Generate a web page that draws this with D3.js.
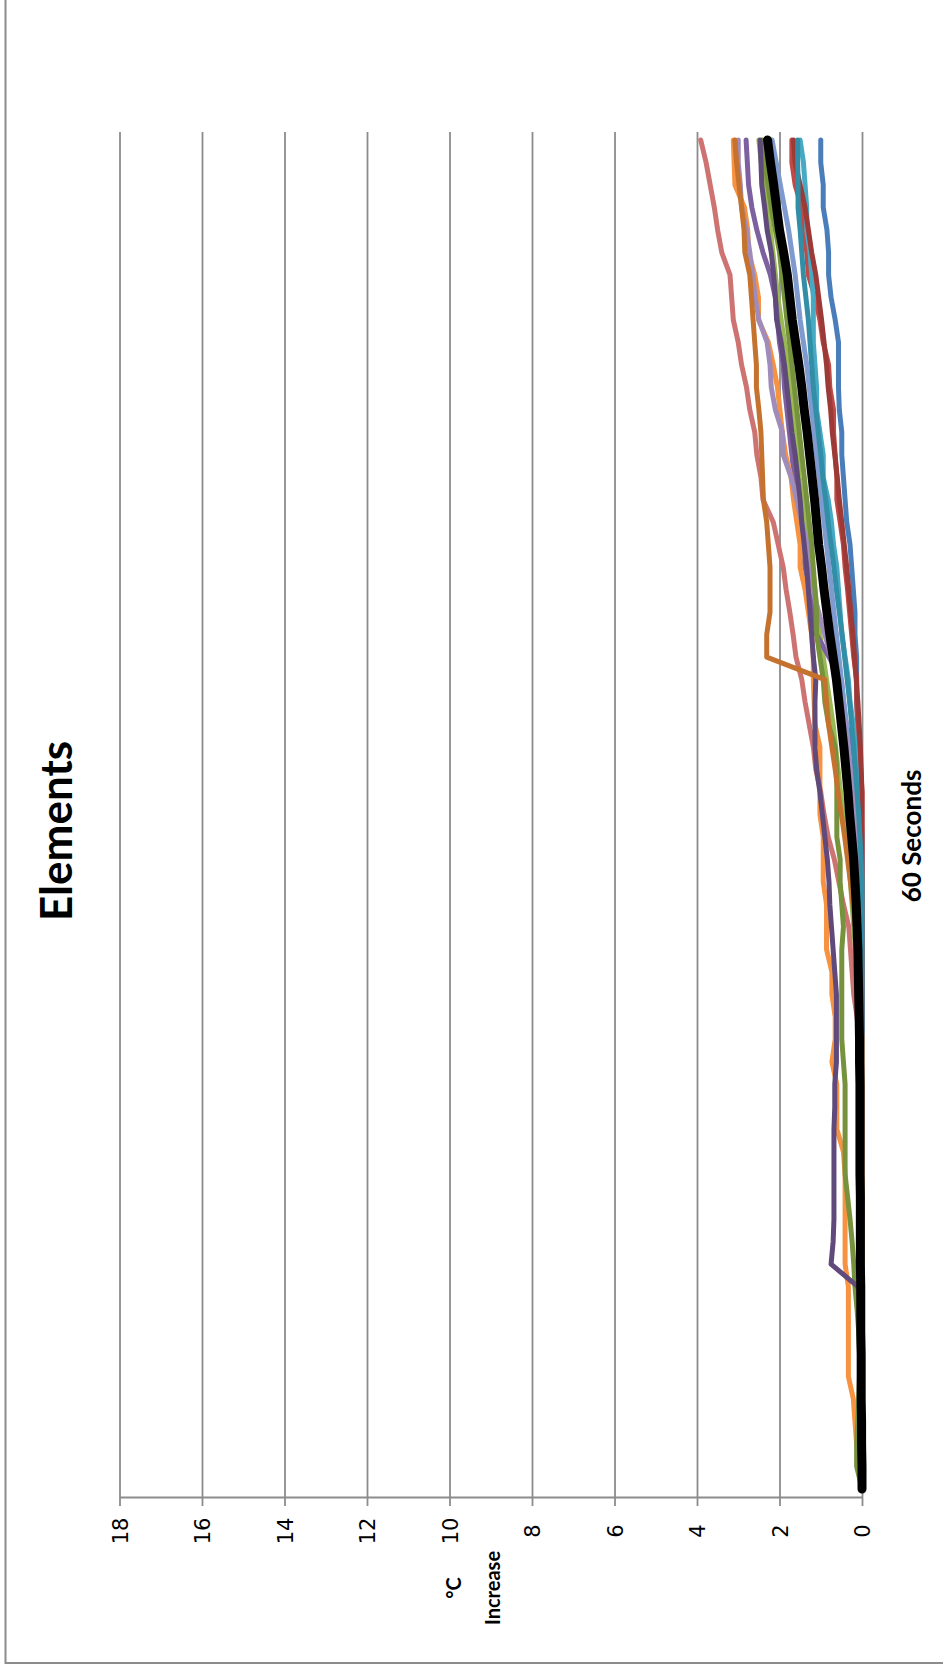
<!DOCTYPE html>
<html>
<head>
<meta charset="utf-8">
<script src="https://cdn.jsdelivr.net/npm/d3@7"></script>
<style>
  html, body { margin: 0; padding: 0; background: #ffffff; }
  svg { display: block; }
</style>
</head>
<body>
<svg id="chart" width="943" height="1671"></svg>
<script>
// Time categories (seconds) and value-axis ticks (°C increase)
const seconds = [0,1,2,3,4,5,6,7,8,9,10,11,12,13,14,15,16,17,18,19,20,
  21,22,23,24,25,26,27,28,29,30,31,32,33,34,35,36,37,38,39,40,
  41,42,43,44,45,46,47,48,49,50,51,52,53,54,55,56,57,58,59,60];
const tempTicks = [0, 2, 4, 6, 8, 10, 12, 14, 16, 18];

// Temperature rise of each element, one reading per second
const blue = [0,0,0,0,0,0,0,0,0,0,0, 0,0,0,0,0,0,0,0,0,0, 0,0,0,0,0,0,0,0,0,0.02,
  0.04,0.06,0.08,0.10,0.13,0.13,0.13,0.17,0.17,0.21, 0.25,0.29,0.37,0.41,0.45,0.49,0.49,0.55,0.57,0.57,
  0.57,0.65,0.75,0.81,0.81,0.85,0.94,0.94,1.00,1.00];
const red = [0,0,0,0,0,0,0,0,0,0,0, 0,0,0,0,0,0,0,0,0,0, 0,0,0,0,0,0,0,0,0,0,
  0,0.03,0.06,0.10,0.13,0.13,0.20,0.25,0.30,0.35, 0.41,0.45,0.53,0.61,0.61,0.65,0.69,0.69,0.78,0.81,
  0.94,1.02,1.14,1.30,1.34,1.42,1.46,1.62,1.70,1.70];
const green = [0,0,0.01,0.01,0.01,0.02,0.02,0.02,0.02,0.02,0.02, 0.02,0.02,0.02,0.02,0.03,0.03,0.03,0.03,0.04,0.05,
  0.09,0.11,0.13,0.16,0.20,0.24,0.28,0.33,0.40,0.46, 0.52,0.58,0.64,0.70,0.78,0.86,0.94,1.02,1.08,1.14,
  1.20,1.28,1.36,1.44,1.52,1.56,1.62,1.68,1.74,1.80, 1.88,1.96,2.04,2.10,2.16,2.22,2.30,2.38,2.44,2.50];
const purple = [0,0,0,0,0,0,0,0,0,0,0, 0,0,0,0,0,0,0,0,0,0, 0,0,0,0,0,0.02,0.04,0.06,0.08,0.10,
  0.13,0.17,0.22,0.38,0.45,0.50,0.80,1.10,1.20,1.28, 1.38,1.46,1.54,1.58,1.64,1.70,1.76,1.82,1.88,1.91,
  2.00,2.05,2.10,2.22,2.40,2.55,2.67,2.75,2.78,2.81];
const aqua = [0,0,0,0,0,0,0,0,0,0,0, 0,0,0,0,0,0,0,0,0,0, 0,0,0,0,0,0,0,0,0.03,0.06,
  0.10,0.13,0.17,0.21,0.29,0.33,0.41,0.49,0.53,0.57, 0.61,0.69,0.74,0.82,0.94,0.94,1.02,1.10,1.10,1.14,
  1.18,1.18,1.18,1.22,1.26,1.34,1.34,1.38,1.42,1.50];
const orange = [0,0.05,0.13,0.17,0.21,0.33,0.33,0.33,0.33,0.33,0.41, 0.41,0.41,0.41,0.41,0.45,0.61,0.61,0.61,0.73,0.65,
  0.65,0.73,0.73,0.86,0.86,0.86,0.94,0.94,0.94,1.02, 1.02,1.02,1.02,1.14,1.16,1.18,1.18,1.22,1.30,1.38,
  1.50,1.50,1.58,1.66,1.72,1.85,1.93,1.99,2.05,2.15, 2.27,2.51,2.51,2.60,2.75,2.77,2.85,3.08,3.10,3.12];
const lightBlue = [0,0,0,0,0,0,0,0,0,0,0, 0,0,0,0,0,0,0,0,0,0, 0,0,0.02,0.04,0.06,0.08,0.10,0.13,0.16,0.20,
  0.24,0.28,0.33,0.38,0.44,0.50,0.56,0.62,0.68,0.74, 0.80,0.86,0.92,0.98,1.04,1.10,1.16,1.22,1.28,1.34,
  1.42,1.50,1.56,1.62,1.70,1.78,1.88,1.98,2.08,2.18];
const pink = [0,0,0,0,0,0,0,0,0,0,0, 0,0,0,0,0,0,0,0,0.03,0.06, 0.12,0.20,0.24,0.28,0.32,0.45,0.56,0.67,0.82,0.92,
  1.00,1.12,1.18,1.28,1.38,1.46,1.60,1.67,1.75,1.84, 1.91,2.03,2.15,2.40,2.45,2.55,2.60,2.72,2.80,2.92,
  3.00,3.12,3.16,3.20,3.40,3.50,3.58,3.68,3.78,3.91];
const lavender = [0,0,0,0,0,0,0,0,0,0,0, 0,0,0,0,0,0,0,0,0,0, 0,0,0,0,0,0.02,0.04,0.06,0.10,0.14,
  0.20,0.28,0.35,0.42,0.50,0.60,0.75,0.90,1.05,1.20, 1.30,1.32,1.46,1.58,1.72,1.91,1.93,2.10,2.20,2.23,
  2.30,2.50,2.59,2.65,2.72,2.80,2.92,2.95,3.00,3.00];
const darkRed = [0,0,0,0,0,0,0,0,0,0,0, 0,0,0,0,0,0,0,0,0,0, 0,0,0,0,0,0,0,0,0,0,
  0,0.02,0.04,0.07,0.10,0.14,0.18,0.22,0.27,0.32, 0.37,0.43,0.49,0.55,0.60,0.66,0.72,0.76,0.82,0.86,
  0.92,0.98,1.05,1.12,1.22,1.30,1.38,1.50,1.62,1.66];
const olive = [0,0.13,0.13,0.10,0.08,0.06,0.06,0.08,0.12,0.17,0.20, 0.24,0.29,0.35,0.41,0.41,0.41,0.41,0.41,0.45,0.49,
  0.49,0.49,0.49,0.49,0.45,0.49,0.53,0.53,0.61,0.61, 0.61,0.61,0.65,0.81,0.90,0.94,1.02,1.10,1.10,1.14,
  1.18,1.22,1.28,1.34,1.40,1.46,1.52,1.58,1.64,1.70, 1.76,1.82,1.88,1.94,2.00,2.10,2.20,2.28,2.36,2.42];
const darkPurple = [0,0.03,0.03,0.03,0.03,0.03,0.03,0.03,0.03,0.10,0.75, 0.70,0.68,0.68,0.68,0.68,0.68,0.66,0.66,0.62,0.62,
  0.62,0.62,0.66,0.70,0.74,0.78,0.80,0.84,0.90,0.96, 1.02,1.10,1.14,1.14,1.14,1.12,1.18,1.22,1.26,1.30,
  1.34,1.40,1.46,1.50,1.56,1.62,1.70,1.76,1.82,1.88, 1.96,2.07,2.10,2.14,2.20,2.30,2.36,2.43,2.45,2.47];
const darkTeal = [0,0,0,0,0,0,0,0,0,0,0, 0,0,0,0,0,0,0,0,0,0, 0,0,0,0,0,0,0,0.02,0.05,0.08,
  0.12,0.16,0.20,0.25,0.30,0.36,0.42,0.48,0.55,0.62, 0.68,0.75,0.82,0.88,0.95,1.00,1.06,1.12,1.18,1.22,
  1.26,1.30,1.36,1.42,1.46,1.50,1.55,1.55,1.56,1.56];
const darkOrange = [0,0,0,0,0,0,0,0,0,0,0, 0,0,0,0,0,0,0,0,0,0, 0.03,0.05,0.08,0.12,0.16,0.22,0.28,0.35,0.42,0.50,
  0.58,0.65,0.73,0.81,0.86,0.90,2.31,2.31,2.23,2.23, 2.23,2.27,2.31,2.39,2.41,2.43,2.45,2.50,2.56,2.56,
  2.60,2.64,2.68,2.72,2.84,2.86,2.92,2.98,3.04,3.08];
// Average of all elements
const average = [0.00,0.00,0.01,0.01,0.02,0.02,0.02,0.03,0.03,0.03,0.04, 0.04,0.04,0.04,0.05,0.05,0.05,0.05,0.05,0.06,0.06,
  0.07,0.08,0.09,0.10,0.12,0.14,0.17,0.20,0.25,0.30, 0.34,0.39,0.44,0.50,0.56,0.62,0.70,0.78,0.85,0.92,
  0.98,1.05,1.10,1.15,1.21,1.27,1.33,1.40,1.46,1.53, 1.61,1.69,1.75,1.81,1.90,2.00,2.07,2.14,2.22,2.29];

// Draw order: earlier series sit underneath later ones; the average goes last
const series = [
  { values: blue,       color: "#4A7EBB", width: 5 },
  { values: red,        color: "#BE4B48", width: 5 },
  { values: green,      color: "#98B954", width: 5 },
  { values: purple,     color: "#7D60A0", width: 5 },
  { values: aqua,       color: "#46AAC5", width: 5 },
  { values: orange,     color: "#F69240", width: 5 },
  { values: lightBlue,  color: "#7E9ACF", width: 5 },
  { values: pink,       color: "#CD7371", width: 5 },
  { values: lavender,   color: "#A08CBA", width: 5 },
  { values: darkRed,    color: "#9B3A37", width: 5 },
  { values: olive,      color: "#76923C", width: 5 },
  { values: darkPurple, color: "#5F4A7B", width: 5 },
  { values: darkTeal,   color: "#328EA6", width: 5 },
  { values: darkOrange, color: "#C5722E", width: 5 },
  { values: average,    color: "#000000", width: 9 }
];

const svg = d3.select("#chart");
const gridColor = "#8c8c8c";
const plotTop = 132, axisY = 1497;

// The chart is laid out sideways: temperature runs right-to-left, time runs bottom-to-top
const temp = d3.scaleLinear().domain([0, 18]).range([862, 119.5]);
const time = d3.scalePoint().domain(seconds).range([1489, 140]);

// Chart area frame
svg.append("rect")
  .attr("x", 5.5).attr("y", -10)
  .attr("width", 970).attr("height", 1673)
  .attr("fill", "none").attr("stroke", gridColor).attr("stroke-width", 2);

// Major gridlines
svg.append("g")
  .attr("transform", `translate(0,${axisY})`)
  .call(d3.axisBottom(temp).tickValues(tempTicks).tickSize(-(axisY - plotTop)).tickFormat(""))
  .call(g => g.select(".domain").remove())
  .selectAll("line").attr("stroke", gridColor).attr("stroke-width", 1.8);

// Value axis with tick marks and rotated labels
const ax = svg.append("g")
  .attr("transform", `translate(0,${axisY})`)
  .call(d3.axisBottom(temp).tickValues(tempTicks).tickSizeInner(9).tickSizeOuter(0).tickPadding(0));
ax.select(".domain").attr("stroke", gridColor).attr("stroke-width", 1.8);
ax.selectAll(".tick line").attr("stroke", gridColor).attr("stroke-width", 1.8);
ax.selectAll(".tick text")
  .attr("transform", "translate(0,34) rotate(-90)")
  .attr("x", 0).attr("y", 0).attr("dy", "0.36em")
  .attr("text-anchor", "middle")
  .attr("fill", "#000")
  .style("font-family", "'DejaVu Sans', sans-serif")
  .style("font-size", "21px");

// Element curves
const line = d3.line()
  .x(d => temp(d[1]))
  .y(d => time(d[0]));

svg.append("g").selectAll("path")
  .data(series)
  .join("path")
  .attr("d", s => line(seconds.map((t, i) => [t, s.values[i]])))
  .attr("fill", "none")
  .attr("stroke", s => s.color)
  .attr("stroke-width", s => s.width)
  .attr("stroke-linejoin", "round")
  .attr("stroke-linecap", "round");

// Titles
const boldFont = "Lato, 'Open Sans', sans-serif";

svg.append("text")
  .attr("transform", "translate(72,831) rotate(-90)")
  .attr("text-anchor", "middle")
  .style("font-family", boldFont).style("font-weight", 700).style("font-size", "44px")
  .text("Elements");

svg.append("text")
  .attr("transform", "translate(921,836) rotate(-90)")
  .attr("text-anchor", "middle")
  .style("font-family", boldFont).style("font-weight", 700).style("font-size", "26px")
  .text("60 Seconds");

const yTitle = svg.append("text")
  .attr("transform", "translate(0,1588) rotate(-90)")
  .attr("text-anchor", "middle")
  .style("font-family", boldFont).style("font-weight", 700).style("font-size", "20px");
yTitle.append("tspan").attr("x", 0).attr("y", 461).text("°C");
yTitle.append("tspan").attr("x", 0).attr("y", 500).text("Increase");
</script>
</body>
</html>
